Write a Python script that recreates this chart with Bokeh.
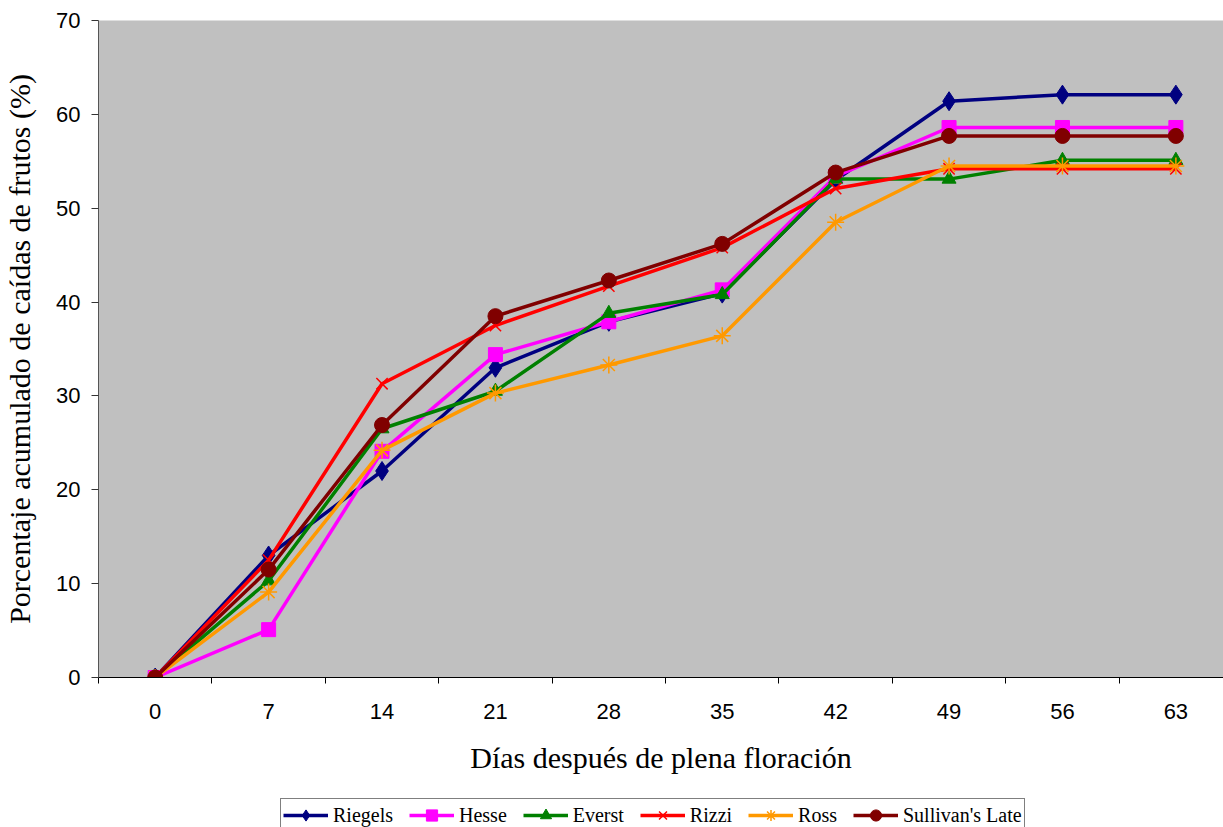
import numpy as np
from bokeh.plotting import figure
from bokeh.models import Range1d, FixedTicker, Legend, LegendItem
from bokeh.layouts import column
from bokeh.embed import file_html
from bokeh.resources import INLINE

days = ["0", "7", "14", "21", "28", "35", "42", "49", "56", "63"]
riegels = [0, 13.0, 22.0, 33.0, 37.9, 40.9, 53.0, 61.4, 62.1, 62.1]
hesse = [0, 5.1, 24.1, 34.4, 37.9, 41.3, 53.4, 58.6, 58.6, 58.6]
everst = [0, 10.3, 26.5, 30.5, 38.8, 40.8, 53.1, 53.1, 55.1, 55.1]
rizzi = [0, 12.5, 31.3, 37.5, 41.7, 45.8, 52.1, 54.2, 54.2, 54.2]
ross = [0, 9.1, 24.2, 30.3, 33.3, 36.4, 48.5, 54.5, 54.5, 54.5]
sullivan = [0, 11.5, 26.9, 38.5, 42.3, 46.2, 53.8, 57.7, 57.7, 57.7]

series = [
    ("Riegels", riegels, "#000080", "diamond", 19),
    ("Hesse", hesse, "#FF00FF", "square", 14),
    ("Everst", everst, "#008000", "triangle", 14),
    ("Rizzi", rizzi, "#FF0000", "x", 16),
    ("Ross", ross, "#FF9900", "asterisk", 17),
    ("Sullivan's Late", sullivan, "#800000", "circle", 15),
]

n = len(days)
xs = np.arange(n) + 0.5

W = 1223
# the right-hand part of the last category band lies past the picture's edge
p = figure(width=W, height=792, output_backend="svg", toolbar_location=None,
           x_range=Range1d(0, 9.92), y_range=Range1d(0, 70))
p.min_border_left = 98
p.min_border_right = 0
p.min_border_top = 20
p.min_border_bottom = 115
p.background_fill_color = "#C0C0C0"
p.border_fill_color = "white"
p.outline_line_color = None
p.xgrid.grid_line_color = None
p.ygrid.grid_line_color = None

# x axis
p.xaxis.ticker = FixedTicker(ticks=list(xs), minor_ticks=list(range(n + 1)))
p.xaxis.major_label_overrides = {float(x): d for x, d in zip(xs, days)}
p.xaxis.major_tick_line_color = None
p.xaxis.major_tick_out = 6
p.xaxis.major_tick_in = 0
p.xaxis.minor_tick_out = 6
p.xaxis.minor_tick_in = 0
p.xaxis.minor_tick_line_color = "black"
p.xaxis.axis_line_color = "black"
p.xaxis.major_label_standoff = 20
p.xaxis.major_label_text_font = "Liberation Sans"
p.xaxis.major_label_text_font_size = "22px"
p.xaxis.major_label_text_color = "black"
p.xaxis.axis_label = "Días después de plena floración"
p.xaxis.axis_label_text_font = "Liberation Serif"
p.xaxis.axis_label_text_font_style = "normal"
p.xaxis.axis_label_text_font_size = "30px"
p.xaxis.axis_label_text_color = "black"
p.xaxis.axis_label_standoff = 19

# y axis
p.yaxis.ticker = FixedTicker(ticks=list(range(0, 71, 10)))
p.yaxis.minor_tick_line_color = None
p.yaxis.major_tick_out = 7
p.yaxis.major_tick_in = 0
p.yaxis.major_tick_line_color = "#333333"
p.yaxis.axis_line_color = "#555555"
p.yaxis.major_label_standoff = 11
p.yaxis.major_label_text_font = "Liberation Sans"
p.yaxis.major_label_text_font_size = "22px"
p.yaxis.major_label_text_color = "black"
p.yaxis.axis_label = "Porcentaje acumulado de caídas de frutos (%)"
p.yaxis.axis_label_text_font = "Liberation Serif"
p.yaxis.axis_label_text_font_style = "normal"
p.yaxis.axis_label_text_font_size = "30px"
p.yaxis.axis_label_text_color = "black"
p.yaxis.axis_label_standoff = 17

# legend strip below the chart
lf = figure(width=W, height=35, output_backend="svg", toolbar_location=None,
            x_range=Range1d(100, 101), y_range=Range1d(0, 1),
            x_axis_location=None, y_axis_location=None, min_border=0)
lf.outline_line_color = None
lf.grid.visible = False
lf.background_fill_color = "white"
lf.border_fill_color = "white"

items = []
for name, vals, color, marker, size in series:
    lw = 1.5 if marker in ("x", "asterisk") else 1
    p.line(xs, vals, line_color=color, line_width=3.5)
    p.scatter(xs, vals, marker=marker, size=size, line_color=color,
              line_width=lw, fill_color=color)
    l1 = lf.line(xs, vals, line_color=color, line_width=3.5)
    l2 = lf.scatter(xs, vals, marker=marker, size=size, line_color=color,
                    line_width=lw, fill_color=color)
    items.append(LegendItem(label=name, renderers=[l1, l2]))

legend = Legend(items=items, orientation="horizontal", location=(182, -5))
legend.label_text_font = "Liberation Serif"
legend.label_text_font_size = "20px"
legend.label_text_color = "black"
legend.glyph_width = 45
legend.glyph_height = 28
legend.label_height = 20
legend.label_standoff = 5
legend.spacing = 16
legend.padding = 2
legend.margin = 0
legend.border_line_color = "black"
legend.border_line_width = 1
legend.background_fill_color = "white"
legend.background_fill_alpha = 1
lf.add_layout(legend, "center")

layout = column(p, lf, spacing=0)
open("out.html", "w").write(file_html(layout, INLINE))
